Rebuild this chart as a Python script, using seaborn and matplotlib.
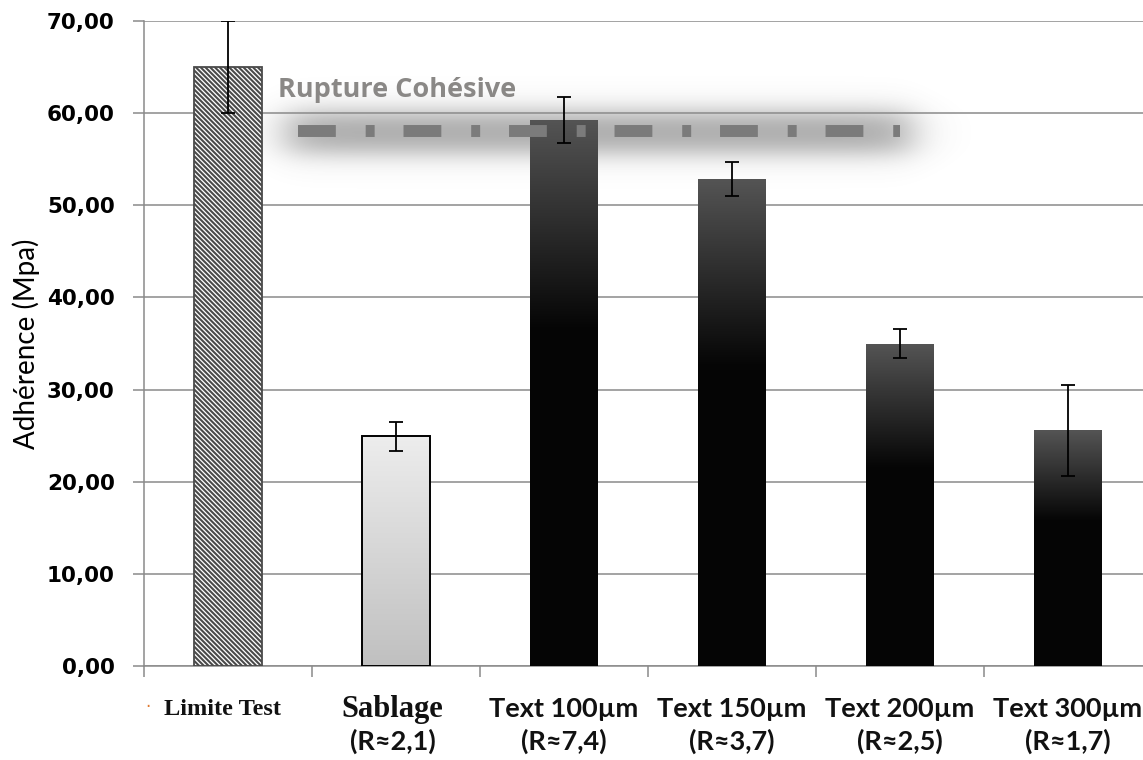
import numpy as np
import pandas as pd
import matplotlib
matplotlib.use("Agg")
import matplotlib.pyplot as plt
import seaborn as sns
from matplotlib.transforms import blended_transform_factory
from matplotlib.colors import to_rgb

# ---------------- data ----------------
categories = ["Limite Test", "Sablage", "Text 100µm", "Text 150µm", "Text 200µm", "Text 300µm"]
roughness = ["", "(R≈2,1)", "(R≈7,4)", "(R≈3,7)", "(R≈2,5)", "(R≈1,7)"]
adherence = [65.0, 25.0, 59.3, 52.8, 34.9, 25.6]
err_low = [60.0, 23.3, 56.8, 51.0, 33.4, 20.6]
err_high = [70.0, 26.5, 61.7, 54.7, 36.6, 30.5]
yticks = [0, 10, 20, 30, 40, 50, 60, 70]
ytick_labels = ["0,00", "10,00", "20,00", "30,00", "40,00", "50,00", "60,00", "70,00"]
rupture_label = "Rupture Cohésive"
rupture_level = 58.1
rupture_span = [0.415, 4.0]
y_label = "Adhérence (Mpa)"

# ---------------- style ----------------
sns.set_theme(style="white")
plt.rcParams["font.family"] = ["DejaVu Sans"]
plt.rcParams["hatch.linewidth"] = 1.5
plt.rcParams["hatch.color"] = "#404040"

W, H = 1143, 760
SP = 168.0  # pixels per category
fig = plt.figure(figsize=(W / 100, H / 100), dpi=100)
ax = fig.add_axes([144 / W, 1 - 666 / H, 1 - 144 / W, 645 / H])
XLIM = (-0.5, -0.5 + 999 / SP)

df = pd.DataFrame({"cat": categories, "val": adherence})
sns.barplot(data=df, x="cat", y="val", order=categories, width=0.40,
            color="black", errorbar=None, ax=ax, zorder=3, saturation=1)


def fill_gradient(patch, stops):
    x0 = patch.get_x()
    w = patch.get_width()
    h = patch.get_height()
    n = 256
    t = np.linspace(0, 1, n)
    pos = [s[0] for s in stops]
    cols = np.array([to_rgb(s[1]) for s in stops])
    img = np.zeros((n, 1, 3))
    for c in range(3):
        img[:, 0, c] = np.interp(t, pos, cols[:, c])
    im = ax.imshow(img, extent=(x0, x0 + w, 0, h), aspect="auto",
                   origin="upper", zorder=2.9, interpolation="bilinear")
    im.set_clip_path(patch)


patches = ax.patches
for i, p in enumerate(patches):
    if i == 0:
        p.set_facecolor("white")
        p.set_hatch("\\" * 7)
        p.set_edgecolor("#4a4a4a")
        p.set_linewidth(1.3)
    elif i == 1:
        fill_gradient(p, [(0, "#ededed"), (1, "#c0c0c0")])
        p.set_facecolor("none")
        p.set_edgecolor("black")
        p.set_linewidth(1.4)
    else:
        fill_gradient(p, [(0, "#545454"), (0.38, "#060606"), (1, "#050505")])
        p.set_facecolor("none")
        p.set_edgecolor("none")

# error bars
x = np.arange(len(categories))
vals = np.array(adherence)
ax.errorbar(x, vals, yerr=[vals - np.array(err_low), np.array(err_high) - vals],
            fmt="none", ecolor="black", elinewidth=1.3, capsize=5, capthick=1.3, zorder=6)

# soft glow behind the cohesive rupture line
gx = np.linspace(-0.1, 4.6, 800)
gy = np.linspace(47.0, 69.0, 300)
GX, GY = np.meshgrid(gx, gy)
xa, xb = rupture_span[0] - 0.07, rupture_span[1] + 0.07
sx = 0.5 * (np.tanh((GX - xa) / 0.15) - np.tanh((GX - xb) / 0.15))
ya, yb = rupture_level - 2.4, rupture_level + 2.0
sy = 0.5 * (np.tanh((GY - ya) / 1.6) - np.tanh((GY - yb) / 1.6))
rgba = np.zeros(GX.shape + (4,))
rgba[..., :3] = 0.33
rgba[..., 3] = 0.52 * sx * sy
ax.imshow(rgba, extent=(gx[0], gx[-1], gy[0], gy[-1]), aspect="auto",
          origin="lower", zorder=0.4, interpolation="bilinear")

ax.plot(rupture_span, [rupture_level, rupture_level], color="#7b7b7b", lw=8.6,
        dashes=(38 / 12, 30 / 12, 9 / 12, 29 / 12), dash_capstyle="butt",
        solid_capstyle="butt", zorder=5)
ax.text(0.296, 61.75, rupture_label, color="#8a8886", fontsize=19.5,
        fontweight="bold", family=["Open Sans", "DejaVu Sans"], ha="left", va="baseline", zorder=6)

ax.set_xlim(*XLIM)
ax.set_ylim(0, 70)

# axes styling
ax.set_axisbelow(True)
ax.yaxis.grid(True, color="#8a8a8a", lw=1.1)
ax.xaxis.grid(False)
for s in ["top", "right"]:
    ax.spines[s].set_visible(False)
for s in ["left", "bottom"]:
    ax.spines[s].set_color("#8a8a8a")
    ax.spines[s].set_linewidth(1.1)

ax.set_yticks(yticks, ytick_labels)
ax.tick_params(axis="y", which="major", left=True, length=8, width=1.1, color="#8a8a8a",
               pad=13, labelsize=15.5)
for lab in ax.get_yticklabels():
    lab.set_fontweight("bold")
    lab.set_color("black")

ax.set_xticks(x, [""] * len(categories))
ax.tick_params(axis="x", which="major", length=0)
ax.set_xticks(np.arange(-0.5, 5.0, 1.0), minor=True)
ax.tick_params(axis="x", which="minor", bottom=True, length=8, width=1.1,
               color="#8a8a8a", direction="out")

ax.set_xlabel("")
ax.set_ylabel(y_label, fontsize=20, family=["Lato", "DejaVu Sans"], color="black")
ax.yaxis.set_label_coords(-0.104, 0.5)

# category labels
tr = blended_transform_factory(ax.transData, ax.transAxes)
for i, (cat, r) in enumerate(zip(categories, roughness)):
    if i == 0:
        ax.text(i - 0.03, -0.076, cat, transform=tr, ha="center", va="baseline",
                fontsize=17.5, fontweight="bold", family=["Liberation Serif", "DejaVu Serif"],
                color="#111111", clip_on=False)
    elif i == 1:
        ax.text(i - 0.02, -0.079, cat, transform=tr, ha="center", va="baseline",
                fontsize=22, fontweight="bold", family=["Liberation Serif", "DejaVu Serif"],
                color="#111111", clip_on=False)
    else:
        ax.text(i, -0.079, cat, transform=tr, ha="center", va="baseline",
                fontsize=19.5, fontweight="bold", family=["Lato", "DejaVu Sans"],
                color="#111111", clip_on=False)
    if r:
        ax.text(i - 0.02 if i == 1 else i, -0.130, r, transform=tr, ha="center", va="baseline",
                fontsize=19.5, fontweight="bold", family=["Lato", "DejaVu Sans"],
                color="#111111", clip_on=False)

ax.text(-0.474, -0.072, "·", transform=tr, ha="center", va="baseline", fontsize=12,
        color="#e07a30", clip_on=False)

fig.savefig("out.png", dpi=100)
